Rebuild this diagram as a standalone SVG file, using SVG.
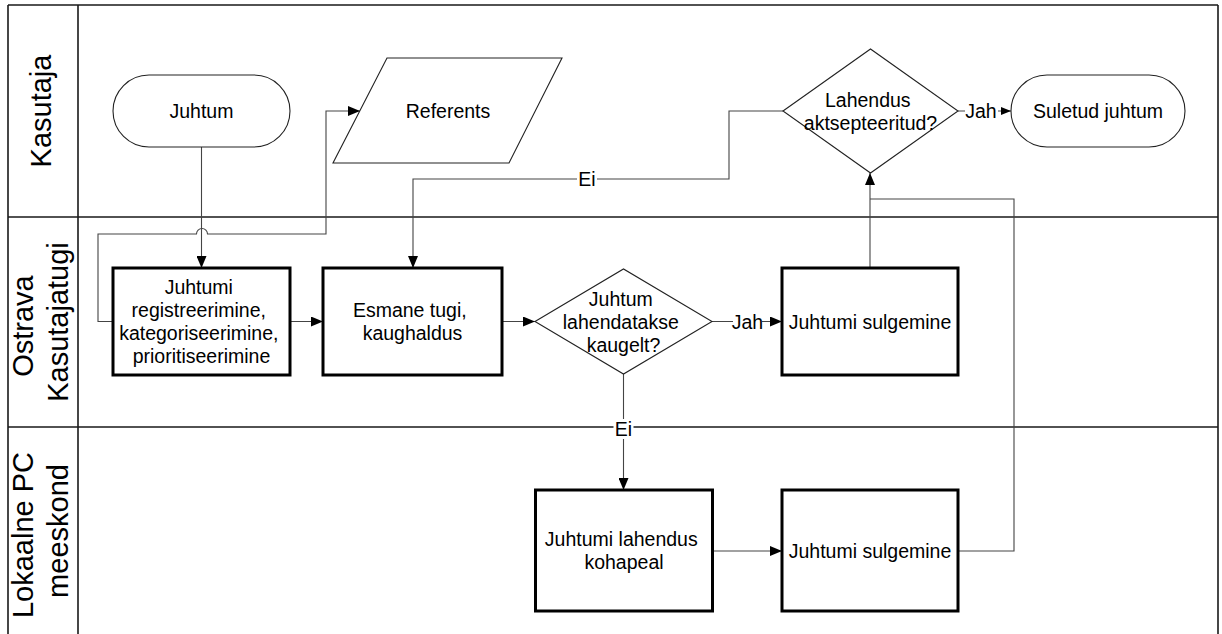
<svg xmlns="http://www.w3.org/2000/svg" width="1222" height="634" viewBox="0 0 1222 634">
  <defs>
    <marker id="arrow" viewBox="0 0 12 10" refX="12" refY="5" markerWidth="12" markerHeight="10" markerUnits="userSpaceOnUse" orient="auto">
      <path d="M0,0 L12,5 L0,10 Z" fill="#000"/>
    </marker>
    <marker id="arrow-small" viewBox="0 0 10 8" refX="10" refY="4" markerWidth="10" markerHeight="8" markerUnits="userSpaceOnUse" orient="auto">
      <path d="M0,0 L10,4 L0,8 Z" fill="#000"/>
    </marker>
  </defs>
  <style>
    .frame { fill: none; stroke: #1a1a1a; stroke-width: 1.6; }
    .lane-label { font-family: "Liberation Sans", Arial, sans-serif; font-size: 29px; fill: #000; text-anchor: middle; }
    .label { font-family: "Liberation Sans", Arial, sans-serif; font-size: 19.5px; fill: #000; text-anchor: middle; }
    .process { fill: #fff; stroke: #000; stroke-width: 3; }
    .shape { fill: #fff; stroke: #222; stroke-width: 1.1; }
    .conn { fill: none; stroke: #444; stroke-width: 1.1; }
    .tag-bg { fill: #fff; }
  </style>

  <rect width="1222" height="634" fill="#fff"/>

  <!-- swimlane frame -->
  <g id="lanes">
    <path class="frame" d="M8,5 H1218 M8,217 H1218 M8,427 H1218 M8,5 V634 M78,5 V634 M1218,5 V634"/>
    <text class="lane-label" transform="translate(0,111) rotate(-90)" x="0" y="51">Kasutaja</text>
    <text class="lane-label" transform="translate(0,322) rotate(-90)">
      <tspan x="0" y="33">Ostrava</tspan>
      <tspan x="0" y="68">Kasutajatugi</tspan>
    </text>
    <text class="lane-label" transform="translate(0,531) rotate(-90)">
      <tspan x="0" y="33">Lokaalne PC</tspan>
      <tspan x="0" y="68">meeskond</tspan>
    </text>
  </g>

  <!-- connectors -->
  <g id="connectors">
    <path class="conn" d="M201.5,147 V268" marker-end="url(#arrow)"/>
    <path class="conn" d="M113,321.5 H98 V234 H196.5 A5.5,5.5 0 0 1 207.5,234 H326 V111 H360" marker-end="url(#arrow)"/>
    <path class="conn" d="M290,321.5 H323" marker-end="url(#arrow)"/>
    <path class="conn" d="M502,321.5 H535" marker-end="url(#arrow)"/>
    <path class="conn" d="M712,321.5 H782" marker-end="url(#arrow)"/>
    <path class="conn" d="M623.5,374 V490" marker-end="url(#arrow)"/>
    <path class="conn" d="M713,551 H782" marker-end="url(#arrow)"/>
    <path class="conn" d="M958,551 H1014 V199 H870"/>
    <path class="conn" d="M870,268 V173" marker-end="url(#arrow)"/>
    <path class="conn" d="M783,111 H729 V179 H413 V268" marker-end="url(#arrow)"/>
    <path class="conn" d="M958,111 H1011" marker-end="url(#arrow-small)"/>

    <!-- edge labels -->
    <rect class="tag-bg" x="577" y="169" width="20" height="20"/>
    <text class="label" x="587" y="186">Ei</text>
    <rect class="tag-bg" x="733" y="311" width="29" height="20"/>
    <text class="label" x="747.5" y="328.5">Jah</text>
    <rect class="tag-bg" x="613.5" y="419" width="20" height="20"/>
    <text class="label" x="623.5" y="436">Ei</text>
    <rect class="tag-bg" x="965" y="101" width="33" height="20"/>
    <text class="label" x="981" y="118">Jah</text>
  </g>

  <g id="juhtum">
    <rect class="shape" x="113" y="75" width="177" height="72" rx="36" ry="36"/>
    <text class="label" x="201.5" y="118">Juhtum</text>
  </g>

  <g id="referents">
    <polygon class="shape" points="387,58 562,58 509,163 333,163"/>
    <text class="label" x="448" y="118">Referents</text>
  </g>

  <g id="lahendus-aktsepteeritud">
    <polygon class="shape" points="783,111 870.5,49 958,111 870.5,173"/>
    <text class="label">
      <tspan x="870.5" y="107">Lahendus</tspan>
      <tspan x="870.5" y="130">aktsepteeritud?</tspan>
    </text>
  </g>

  <g id="suletud-juhtum">
    <rect class="shape" x="1011" y="75" width="174" height="72" rx="36" ry="36"/>
    <text class="label" x="1098" y="118">Suletud juhtum</text>
  </g>

  <g id="registreerimine">
    <rect class="process" x="113" y="268" width="177" height="107"/>
    <text class="label">
      <tspan x="201.5" y="294">Juhtumi</tspan>
      <tspan x="201.5" y="317">registreerimine,</tspan>
      <tspan x="201.5" y="340">kategoriseerimine,</tspan>
      <tspan x="201.5" y="363">prioritiseerimine</tspan>
    </text>
  </g>

  <g id="esmane-tugi">
    <rect class="process" x="323" y="268" width="179" height="107"/>
    <text class="label">
      <tspan x="412.5" y="317">Esmane tugi,</tspan>
      <tspan x="412.5" y="340">kaughaldus</tspan>
    </text>
  </g>

  <g id="lahendatakse-kaugelt">
    <polygon class="shape" points="535,321.5 623.5,269 712,321.5 623.5,374"/>
    <text class="label">
      <tspan x="623.5" y="305.5">Juhtum</tspan>
      <tspan x="623.5" y="328.5">lahendatakse</tspan>
      <tspan x="623.5" y="351.5">kaugelt?</tspan>
    </text>
  </g>

  <g id="sulgemine-kaug">
    <rect class="process" x="782" y="268" width="176" height="107"/>
    <text class="label" x="870" y="328.5">Juhtumi sulgemine</text>
  </g>

  <g id="lahendus-kohapeal">
    <rect class="process" x="535.5" y="490" width="177" height="121"/>
    <text class="label">
      <tspan x="624" y="546">Juhtumi lahendus</tspan>
      <tspan x="624" y="569">kohapeal</tspan>
    </text>
  </g>

  <g id="sulgemine-kohapeal">
    <rect class="process" x="782" y="490" width="176" height="121"/>
    <text class="label" x="870" y="558">Juhtumi sulgemine</text>
  </g>
</svg>
